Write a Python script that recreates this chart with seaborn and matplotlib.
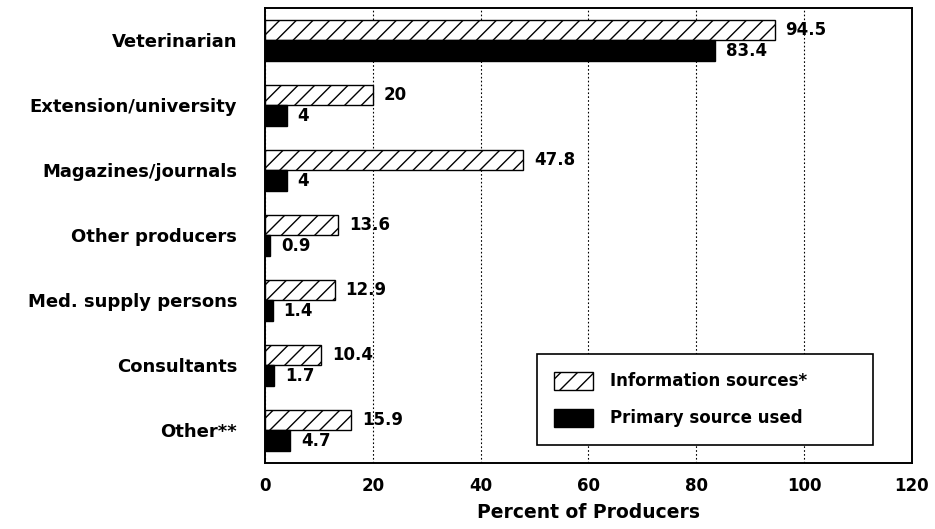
import matplotlib
matplotlib.use("Agg")
import matplotlib.pyplot as plt
from matplotlib.patches import Patch
import seaborn as sns
import pandas as pd

categories = ["Veterinarian", "Extension/university", "Magazines/journals",
              "Other producers", "Med. supply persons", "Consultants", "Other**"]
info_sources = [94.5, 20, 47.8, 13.6, 12.9, 10.4, 15.9]
primary_source = [83.4, 4, 4, 0.9, 1.4, 1.7, 4.7]
series_names = ["Information sources*", "Primary source used"]
x_ticks = [0, 20, 40, 60, 80, 100, 120]

df = pd.DataFrame({
    "Source": categories * 2,
    "Percent": info_sources + primary_source,
    "Series": [series_names[0]] * len(categories) + [series_names[1]] * len(categories),
})

sns.set_theme(style="white")
plt.rcParams["font.family"] = ["DejaVu Sans"]
plt.rcParams["font.weight"] = "bold"
plt.rcParams["hatch.linewidth"] = 1.0
plt.rcParams["text.color"] = "black"
plt.rcParams["axes.labelcolor"] = "black"
plt.rcParams["xtick.color"] = "black"
plt.rcParams["ytick.color"] = "black"

fig = plt.figure(figsize=(9.35, 5.29), dpi=100)
ax = fig.add_axes([0.2834, 0.1248, 0.6920, 0.8602])

sns.barplot(data=df, y="Source", x="Percent", hue="Series", orient="h",
            order=categories, hue_order=series_names,
            palette=["white", "black"], width=0.64, edgecolor="black",
            linewidth=1.0, saturation=1, legend=False, ax=ax)

for p in ax.containers[0].patches:
    p.set_hatch("//")

for cont, vals in zip(ax.containers, [info_sources, primary_source]):
    ax.bar_label(cont, labels=[f"{v:g}" for v in vals], padding=8,
                 fontsize=12, fontweight="bold", color="black")

ax.set_xlim(0, 120)
ax.set_ylim(6.5, -0.5)
ax.set_xticks(x_ticks)
ax.set_xticklabels([str(t) for t in x_ticks], fontsize=12, fontweight="bold")
ax.tick_params(axis="x", direction="in", length=6, width=1, color="black",
               labelcolor="black", pad=10)
ax.tick_params(axis="y", length=0, pad=20, labelsize=13, labelcolor="black")
for lab in ax.get_yticklabels():
    lab.set_fontweight("bold")
ax.set_xlabel("Percent of Producers", fontsize=13.5, fontweight="bold",
              labelpad=6, color="black")
ax.set_ylabel("")
ax.xaxis.grid(True, linestyle=(0, (1.5, 2)), color="black", linewidth=0.8)
ax.set_axisbelow(True)
for s in ax.spines.values():
    s.set_visible(True)
    s.set_color("black")
    s.set_linewidth(1.4)

handles = [Patch(facecolor="white", edgecolor="black", hatch="//", label=series_names[0]),
           Patch(facecolor="black", edgecolor="black", label=series_names[1])]
leg = ax.legend(handles=handles, loc="lower left",
                bbox_to_anchor=(0.42, 0.040, 0.52, 0.2), mode="expand",
                fancybox=False, framealpha=1, edgecolor="black", fontsize=12,
                handlelength=2.35, handleheight=1.3, labelspacing=1.1,
                handletextpad=1.0, borderpad=1.05, borderaxespad=0)
leg.get_frame().set_linewidth(1.2)

fig.savefig("out.png", dpi=100)
